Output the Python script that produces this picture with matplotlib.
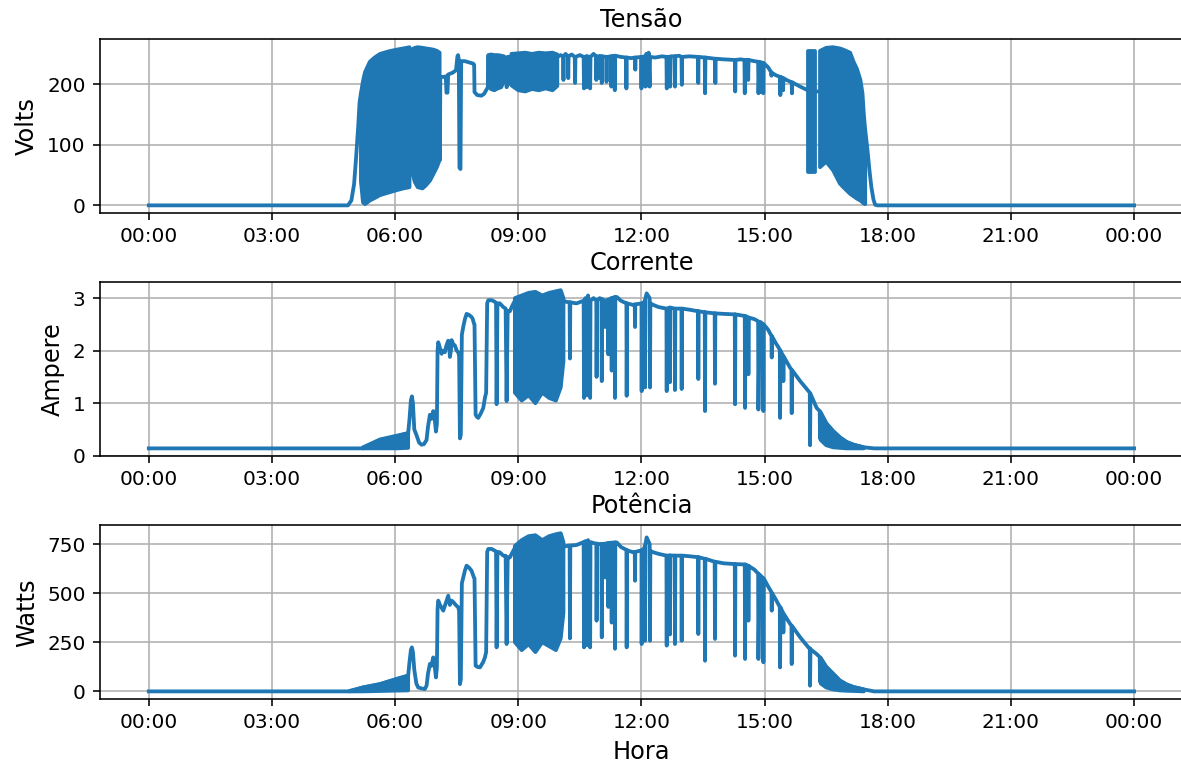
import numpy as np
import matplotlib
matplotlib.use("Agg")
import matplotlib.pyplot as plt
import matplotlib.dates as mdates

# ---------------- data (time in minutes since 00:00) ----------------
titles = ["Tensão", "Corrente", "Potência"]
ylabels = ["Volts", "Ampere", "Watts"]
xlabel = "Hora"

volt_t = [0, 291, 296, 300, 303, 306, 308, 310, 381, 385,
          425, 425.5, 426, 432, 434, 435, 436.5, 437.5, 444, 449, 451, 452, 453, 454, 455.5, 456.5,
          462, 468, 474, 475.5, 476, 480, 486, 490, 494, 495.5, 496,
          519, 521, 522.5, 523, 523.5, 525.5, 526, 526.5, 530,
          597, 602, 605.5, 606, 606.5, 609, 612.5, 613, 613.5, 618, 622.5, 623, 623.5, 630,
          635.5, 636, 636.5, 639.5, 640, 640.5, 644.5, 645, 645.5, 650, 653.5, 654, 654.5,
          658.5, 659, 659.5, 661.5, 662, 662.5, 668.5, 669, 669.5, 675.5, 676, 676.5,
          680.5, 681, 681.5, 690, 697.5, 698, 698.5, 705, 710.5, 711, 711.5, 719.5, 720, 720.5,
          725.5, 726, 727, 729, 730.5, 732, 732.5, 740, 750, 756.5, 757, 757.5, 761.5, 762, 762.5,
          768.5, 769, 769.5, 775, 778.5, 779, 779.5, 790, 802.5, 803, 803.5, 812.5, 813, 813.5,
          820, 827.5, 828, 828.5, 840, 856.5, 857, 857.5, 865, 870.5, 871, 871.5, 875.5, 876, 876.5,
          885, 890.5, 891, 892.5, 894, 895.5, 897.5, 898, 898.5, 905, 909.5, 910, 910.5, 916,
          922.5, 923, 923.5, 926.5, 927, 927.5, 932, 939.5, 940, 940.5, 952, 963, 974, 981,
          1047, 1050, 1053, 1056, 1059, 1061.5, 1065, 1440]
volt_v = [0, 0, 8, 35, 80, 130, 170, 185, 200, 200,
          150, 75, 212, 212, 213, 186, 186, 216, 219, 223, 246, 248, 240, 62, 60, 238,
          238, 236, 234, 232, 187, 182, 181, 184, 192, 195, 246,
          245, 244, 244, 195, 244, 245, 200, 245, 246,
          245, 248, 246, 207, 246, 250, 246, 210, 246, 249, 245, 202, 245, 248,
          245, 193, 245, 246, 195, 246, 245, 193, 245, 250, 246, 207, 246,
          246, 210, 246, 246, 202, 246, 245, 204, 245, 246, 196, 246,
          247, 190, 247, 245, 244, 193, 244, 243, 244, 224, 244, 245, 193, 245,
          246, 196, 250, 198, 252, 196, 245, 244, 246, 245, 193, 245, 245, 196, 246,
          246, 196, 246, 247, 245, 199, 245, 246, 245, 202, 245, 244, 185, 244,
          243, 242, 202, 242, 241, 240, 188, 240, 241, 240, 185, 240, 240, 207, 240,
          238, 237, 185, 237, 187, 236, 235, 185, 235, 228, 220, 214, 219, 215,
          212, 182, 212, 210, 190, 210, 207, 203, 185, 203, 196, 190, 188, 188,
          124, 95, 60, 30, 10, 1, 0, 0]
# dense oscillation blocks (envelopes), nan separates blocks
volt_band_t = [310, 313, 316, 323, 330, 338, 350, 362, 372, 381,
               383,
               385, 389, 393, 400, 405, 411, 416, 421, 425,
               460,
               496, 500, 505, 510, 515, 519,
               525,
               530, 540, 550, 560, 570, 580, 590, 597,
               800,
               964, 974,
               977,
               981, 990, 1000, 1010, 1015, 1025, 1030, 1035, 1040, 1043, 1045, 1047]
volt_band_lo = [40, 5, 2, 8, 12, 17, 21, 25, 28, 30,
                np.nan,
                53, 38, 30, 28, 33, 41, 52, 63, 75,
                np.nan,
                200, 192, 190, 193, 195, 205,
                np.nan,
                198, 190, 188, 192, 190, 193, 190, 197,
                np.nan,
                55, 55,
                np.nan,
                63, 72, 58, 36, 30, 19, 15, 11, 8, 5, 3, 2]
volt_band_hi = [185, 205, 220, 237, 244, 250, 254, 257, 259, 261,
                np.nan,
                258, 260, 261, 260, 259, 258, 257, 255, 252,
                np.nan,
                248, 249, 248, 248, 247, 246,
                np.nan,
                250, 251, 252, 250, 252, 251, 252, 249,
                np.nan,
                254, 254,
                np.nan,
                255, 260, 261, 259, 257, 252, 237, 225, 207, 185, 150, 124]

amp_t = [0, 313, 338, 362, 379, 381, 383, 384.5, 386, 388, 391, 395, 398.6, 402, 405.9, 408,
         410.8, 413, 415.7, 417.5, 419.6, 421, 422, 423, 425.5, 427.9, 430, 432.7, 435, 437.6,
         439, 440, 441.5, 442.5, 445, 447.3, 450, 452.2, 453.5, 454.7, 456, 457.5, 459.5, 462,
         464.4, 468, 471.7, 473.5, 475.1, 476, 477.6, 479.5, 481.4, 485, 488.8, 491.2, 493,
         494.5, 496.1, 501, 505.8, 507.5, 508.3, 509.5, 513, 518, 521.5, 522.9, 524.5, 527.7,
         531, 535, 606, 610, 615, 615.5, 616, 625, 635.5, 636, 638, 640, 642, 645, 645.5, 650,
         654, 654.4, 655, 659, 661.5, 662, 662.5, 666.5, 667, 667.5, 671, 671.6, 672, 676,
         676.5, 677, 681, 681.3, 681.8, 684, 690, 698, 698.4, 699, 708, 710.2, 710.6, 711, 720,
         720.3, 720.8, 722.7, 725, 725.2, 725.8, 727.6, 732, 732.5, 733, 737.4, 745, 756.5,
         756.9, 757.4, 761.3, 761.7, 762.2, 768.6, 769, 769.5, 778.4, 778.8, 779.3, 790, 802.7,
         803.1, 803.6, 812.5, 812.9, 813.4, 827, 827.5, 828, 840, 856.4, 856.8, 857.3, 871,
         871.4, 871.9, 876, 876.3, 876.8, 885, 890.5, 890.9, 892.5, 894.5, 897.8, 898.2, 898.7,
         905, 910, 910.4, 910.9, 916, 922.2, 922.6, 923.1, 927, 927.4, 927.9, 937, 939.2,
         939.6, 940.1, 952, 964, 966, 966.4, 967, 976, 980.5, 981, 981.5, 990, 1000, 1010,
         1020, 1030, 1045, 1060, 1440]
amp_v = [0.14, 0.14, 0.30, 0.37, 0.43, 0.70, 1.05, 1.13, 1.00, 0.50, 0.40, 0.25, 0.21, 0.22,
         0.30, 0.55, 0.78, 0.70, 0.85, 0.75, 0.46, 0.60, 2.00, 2.16, 2.05, 1.94, 2.00, 1.97,
         2.10, 2.19, 2.10, 1.88, 2.00, 2.20, 2.12, 2.10, 2.00, 1.97, 1.90, 0.33, 0.40, 2.30,
         2.45, 2.60, 2.70, 2.68, 2.64, 2.60, 2.52, 2.50, 0.78, 0.74, 0.72, 0.80, 0.91, 1.10,
         1.20, 2.90, 2.96, 2.96, 2.93, 2.90, 0.98, 2.90, 2.90, 2.83, 2.80, 1.04, 2.75, 2.75,
         2.85, 2.95, 2.95, 2.93, 2.92, 1.85, 2.92, 2.90, 2.95, 1.10, 3.00, 1.15, 3.05, 1.10,
         2.95, 3.00, 2.95, 1.50, 2.95, 3.00, 2.98, 1.42, 2.98, 2.95, 2.45, 2.95, 2.97, 1.93,
         2.97, 3.00, 1.62, 3.00, 3.02, 1.10, 3.02, 3.02, 2.95, 2.90, 1.14, 2.90, 2.87, 2.88,
         2.45, 2.88, 2.90, 1.23, 2.90, 2.90, 2.95, 1.30, 3.00, 3.09, 3.00, 1.30, 2.90, 2.87,
         2.83, 2.80, 1.23, 2.80, 2.82, 1.40, 2.82, 2.80, 1.25, 2.80, 2.80, 1.27, 2.80, 2.78,
         2.75, 1.46, 2.75, 2.73, 0.85, 2.73, 2.71, 1.37, 2.71, 2.70, 2.69, 0.98, 2.69, 2.66,
         0.91, 2.66, 2.63, 1.55, 2.63, 2.60, 2.56, 0.88, 2.55, 2.54, 2.50, 0.85, 2.50, 2.40,
         2.28, 1.87, 2.27, 2.15, 2.02, 0.72, 2.00, 1.90, 1.42, 1.89, 1.68, 1.64, 0.81, 1.63,
         1.42, 1.23, 1.20, 0.20, 1.18, 0.91, 0.85, 0.33, 0.83, 0.62, 0.47, 0.35, 0.26, 0.21,
         0.16, 0.14, 0.14]
amp_band_t = [313, 338, 362, 379,
              450,
              535, 545, 555, 565, 575, 585, 595, 602, 606,
              800,
              982, 990, 1000, 1010, 1020, 1030, 1045]
amp_band_lo = [0.14, 0.14, 0.14, 0.15,
               np.nan,
               1.20, 1.05, 1.15, 1.00, 1.20, 1.10, 1.05, 1.30, 1.80,
               np.nan,
               0.30, 0.20, 0.16, 0.15, 0.14, 0.14, 0.14]
amp_band_hi = [0.16, 0.31, 0.38, 0.43,
               np.nan,
               3.00, 3.05, 3.10, 3.12, 3.05, 3.10, 3.13, 3.15, 3.00,
               np.nan,
               0.82, 0.62, 0.47, 0.35, 0.26, 0.21, 0.16]

watt_t = [0, 293, 313, 338, 362, 379, 381, 383, 384.5, 386, 388, 391, 393.7, 398.6, 403.5,
          406, 408, 410.8, 413, 415.7, 417.5, 419.6, 421, 422, 423, 425.5, 430.3, 434, 437.6,
          440, 442.5, 445, 447.3, 450, 452.2, 453.5, 454.7, 456, 457.5, 459.5, 462, 464.4, 468,
          471.7, 475.1, 476, 477.6, 480, 483.9, 488.8, 491.2, 493, 494.5, 496.1, 501, 505.8,
          507.5, 508.3, 509.5, 513, 518, 521.5, 522.9, 524.5, 527.7, 531, 535, 606, 610, 615,
          615.5, 616, 625, 635.5, 636, 638, 640, 642, 645, 645.5, 650, 654, 654.4, 655, 659,
          661.5, 662, 662.5, 666.5, 667, 667.5, 671, 671.6, 672, 676, 676.5, 677, 681, 681.3,
          681.8, 684, 690, 698, 698.4, 699, 708, 710.2, 710.6, 711, 720, 720.3, 720.8, 722.7,
          725, 725.2, 725.8, 727.6, 732, 732.5, 733, 737.4, 745, 756.5, 756.9, 757.4, 761.3,
          761.7, 762.2, 768.6, 769, 769.5, 778.4, 778.8, 779.3, 790, 802.7, 803.1, 803.6, 812.5,
          812.9, 813.4, 827, 827.5, 828, 840, 856.4, 856.8, 857.3, 871, 871.4, 871.9, 876,
          876.3, 876.8, 885, 890.5, 890.9, 892.5, 894.5, 897.8, 898.2, 898.7, 905, 910, 910.4,
          910.9, 916, 922.2, 922.6, 923.1, 927, 927.4, 927.9, 937, 939.2, 939.6, 940.1, 952,
          964, 966, 966.4, 967, 976, 980.5, 981, 981.5, 990, 1000, 1010, 1020, 1030, 1045,
          1060, 1440]
watt_v = [0, 0, 20, 37, 63, 80, 150, 210, 224, 200, 110, 40, 20, 15, 12, 30, 90, 140, 130,
          173, 140, 71, 120, 420, 462, 440, 411, 450, 487, 440, 462, 455, 445, 435, 428, 410,
          37, 60, 550, 580, 615, 640, 630, 614, 580, 575, 131, 125, 122, 150, 173, 200, 710,
          725, 725, 716, 712, 224, 710, 708, 691, 690, 241, 682, 682, 705, 730, 735, 740, 742,
          270, 742, 745, 760, 224, 765, 235, 770, 224, 760, 755, 752, 360, 752, 750, 750, 275,
          750, 752, 580, 752, 755, 430, 755, 757, 350, 757, 758, 217, 758, 758, 735, 720, 224,
          718, 708, 710, 563, 710, 718, 241, 720, 720, 740, 258, 750, 784, 750, 258, 715, 708,
          700, 691, 233, 691, 692, 290, 692, 691, 241, 691, 691, 258, 691, 688, 683, 292, 683,
          675, 156, 675, 660, 267, 660, 652, 648, 182, 648, 646, 165, 646, 640, 360, 638, 620,
          600, 165, 595, 588, 576, 148, 575, 535, 505, 411, 500, 470, 430, 122, 428, 400, 300,
          395, 345, 335, 139, 333, 275, 224, 220, 29, 215, 190, 175, 50, 170, 125, 90, 55, 35,
          22, 10, 0, 0]
watt_band_t = [293, 313, 338, 362, 379,
               450,
               535, 545, 555, 565, 575, 585, 595, 602, 606,
               800,
               982, 990, 1000, 1010, 1020, 1030, 1045]
watt_band_lo = [0, 0, 2, 4, 5,
                np.nan,
                250, 210, 240, 200, 250, 230, 210, 270, 400,
                np.nan,
                40, 20, 10, 5, 3, 2, 0]
watt_band_hi = [2, 20, 37, 63, 80,
                np.nan,
                740, 770, 790, 795, 770, 790, 800, 805, 760,
                np.nan,
                170, 125, 90, 55, 35, 22, 10]

# ---------------- plotting ----------------
DAY = np.datetime64("2019-01-01T00:00:00")


def to_time(mins):
    secs = np.round(np.asarray(mins, dtype=float) * 60).astype("int64")
    return DAY + secs.astype("timedelta64[s]")


COLOR = "#1f77b4"
LW = 1.9
DPI = 144
fig = plt.figure(figsize=(1181 / DPI, 765 / DPI), dpi=DPI)
axes = fig.subplots(3, 1)
fig.subplots_adjust(left=0.0843, right=1.002, top=0.9486, bottom=0.0859, hspace=0.397)

series = [
    (volt_t, volt_v, volt_band_t, volt_band_lo, volt_band_hi),
    (amp_t, amp_v, amp_band_t, amp_band_lo, amp_band_hi),
    (watt_t, watt_v, watt_band_t, watt_band_lo, watt_band_hi),
]

for ax, (t, v, bt, blo, bhi), title, ylab in zip(axes, series, titles, ylabels):
    ax.plot(to_time(t), v, color=COLOR, lw=LW, zorder=3)
    ax.fill_between(to_time(bt), np.array(blo, float), np.array(bhi, float),
                    color=COLOR, lw=LW, zorder=3)
    ax.set_title(title, fontsize=12)
    ax.set_ylabel(ylab, fontsize=12)
    ax.grid(True, color="#b0b0b0", lw=0.8)
    ax.set_axisbelow(True)
    ax.xaxis.set_major_locator(mdates.HourLocator(byhour=range(0, 24, 3)))
    ax.xaxis.set_major_formatter(mdates.DateFormatter("%H:%M"))
    ax.tick_params(labelsize=10)
    ax.set_xlim(to_time([-72])[0], to_time([1512])[0])

axes[0].set_yticks([0, 100, 200])
axes[1].set_yticks([0, 1, 2, 3])
axes[2].set_yticks([0, 250, 500, 750])
axes[2].set_xlabel(xlabel, fontsize=12)

fig.savefig("out.png", dpi=DPI)
